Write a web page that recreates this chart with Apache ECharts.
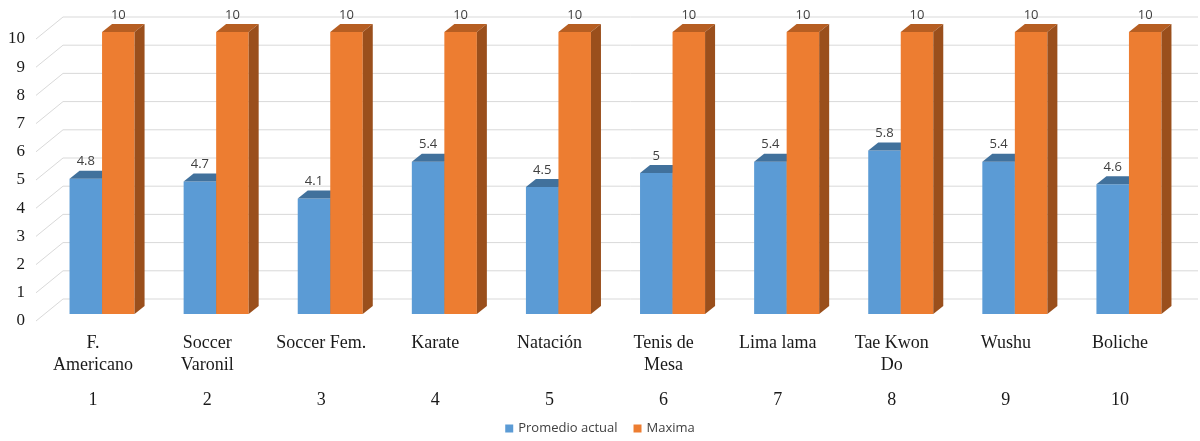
<!DOCTYPE html>
<html>
<head>
<meta charset="utf-8">
<script src="https://cdn.jsdelivr.net/npm/echarts@6/dist/echarts.min.js"></script>
<style>
  html, body { margin: 0; padding: 0; background: #ffffff; }
  #chart { width: 1200px; height: 441px; }
</style>
</head>
<body>
<div id="chart"></div>
<script>
// Sport categories and the evaluation scores per sport
const categories = ['F.\nAmericano', 'Soccer\nVaronil', 'Soccer Fem.', 'Karate', 'Natación',
  'Tenis de\nMesa', 'Lima lama', 'Tae Kwon\nDo', 'Wushu', 'Boliche'];
const categoryNumbers = ['1', '2', '3', '4', '5', '6', '7', '8', '9', '10'];
const promedioActual = [4.8, 4.7, 4.1, 5.4, 4.5, 5, 5.4, 5.8, 5.4, 4.6];
const maxima = [10, 10, 10, 10, 10, 10, 10, 10, 10, 10];
const yTicks = [0, 1, 2, 3, 4, 5, 6, 7, 8, 9, 10];

// Oblique projection offsets (pixels) for the 3D look
const FRONT = [9, -7];   // bar front face relative to the floor edge
const DEPTH = [10, -8];  // bar depth
const WALL = [27, -22];  // back wall relative to the floor edge

const blueFaces = { front: '#5B9BD5', top: '#41719C', side: '#3A6690' };
const orangeFaces = { front: '#ED7D31', top: '#B65E22', side: '#9A4F1C' };

function barRenderer(faces, slot) {
  return function (params, api) {
    const idx = api.value(0);
    const val = api.value(1);
    const top = api.coord([idx, val]);
    const base = api.coord([idx, 0]);
    const band = api.size([1, 0])[0];
    const w = band * 0.285;
    const cx = top[0] + FRONT[0];
    const x0 = slot === 0 ? cx - w : cx;
    const x1 = x0 + w;
    const yTop = top[1] + FRONT[1];
    const yBot = base[1] + FRONT[1];
    const dx = DEPTH[0], dy = DEPTH[1];
    return {
      type: 'group',
      children: [
        { type: 'rect', shape: { x: x0, y: yTop, width: w, height: yBot - yTop },
          style: { fill: faces.front } },
        { type: 'polygon', shape: { points: [[x0, yTop], [x1, yTop], [x1 + dx, yTop + dy], [x0 + dx, yTop + dy]] },
          style: { fill: faces.top } },
        { type: 'polygon', shape: { points: [[x1, yTop], [x1 + dx, yTop + dy], [x1 + dx, yBot + dy], [x1, yBot]] },
          style: { fill: faces.side } },
        { type: 'text', x: x0 + w / 2, y: yTop + dy - 9,
          style: { text: String(val), fill: '#404040', font: '13px "Open Sans", sans-serif',
                   align: 'center', verticalAlign: 'middle' } }
      ]
    };
  };
}

function wallRenderer(params, api) {
  const y = api.coord([0, api.value(1)])[1];
  const cs = params.coordSys;
  const xa = cs.x, xb = cs.x + WALL[0], yb = y + WALL[1];
  const xr = cs.x + cs.width + 21;
  const st = { stroke: '#D9D9D9', lineWidth: 1 };
  return {
    type: 'group',
    children: [
      { type: 'line', shape: { x1: xa, y1: y, x2: xb, y2: yb }, style: st },
      { type: 'line', shape: { x1: xb, y1: yb, x2: xr, y2: yb }, style: st }
    ]
  };
}

const chart = echarts.init(document.getElementById('chart'), null, { renderer: 'canvas' });
chart.setOption({
  animation: false,
  backgroundColor: '#ffffff',
  grid: { left: 36, right: 23, top: 39, bottom: 120, containLabel: false },
  legend: {
    bottom: 1,
    left: 'center',
    icon: 'rect',
    itemWidth: 8,
    itemHeight: 8,
    itemGap: 16,
    textStyle: { fontSize: 13, color: '#404040', fontFamily: '"Open Sans", sans-serif' },
    data: ['Promedio actual', 'Maxima']
  },
  xAxis: [
    {
      type: 'category',
      data: categories,
      axisLine: { show: false },
      axisTick: { show: false },
      axisLabel: {
        interval: 0, margin: 11, lineHeight: 22,
        fontFamily: 'Liberation Serif', fontSize: 18, color: '#1a1a1a'
      }
    },
    {
      type: 'category',
      position: 'bottom',
      data: categoryNumbers,
      axisLine: { show: false },
      axisTick: { show: false },
      axisLabel: {
        interval: 0, margin: 68, lineHeight: 22,
        fontFamily: 'Liberation Serif', fontSize: 18, color: '#1a1a1a'
      }
    }
  ],
  yAxis: {
    type: 'value',
    min: 0, max: 10, interval: 1,
    axisLine: { show: false },
    axisTick: { show: false },
    splitLine: { show: false },
    axisLabel: { margin: 11, fontFamily: 'Liberation Serif', fontSize: 17, color: '#1a1a1a' }
  },
  series: [
    {
      type: 'custom',
      name: 'wall',
      silent: true,
      renderItem: wallRenderer,
      data: yTicks.map(v => [0, v]),
      z: 1
    },
    {
      type: 'custom',
      name: 'Promedio actual',
      itemStyle: { color: '#5B9BD5' },
      renderItem: barRenderer(blueFaces, 0),
      data: promedioActual.map((v, i) => [i, v]),
      z: 2
    },
    {
      type: 'custom',
      name: 'Maxima',
      itemStyle: { color: '#ED7D31' },
      renderItem: barRenderer(orangeFaces, 1),
      data: maxima.map((v, i) => [i, v]),
      z: 3
    }
  ]
});
</script>
</body>
</html>
